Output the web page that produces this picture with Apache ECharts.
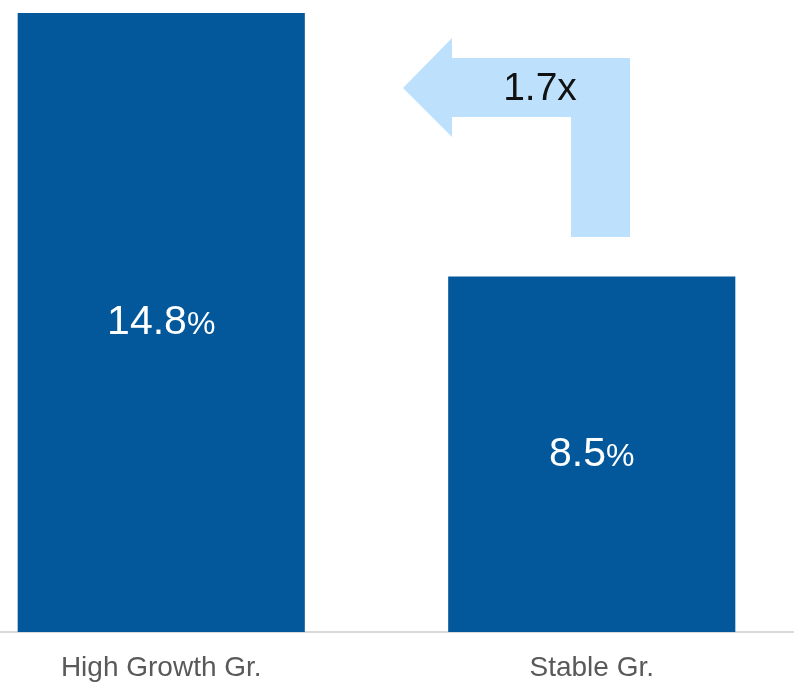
<!DOCTYPE html>
<html>
<head>
<meta charset="utf-8">
<script src="https://cdn.jsdelivr.net/npm/echarts@6/dist/echarts.min.js"></script>
<style>
  html, body { margin: 0; padding: 0; background: #fff; overflow: hidden; }
  #wrap { position: relative; width: 794px; height: 682px; overflow: hidden; }
  /* the plot is wider than the page so the outer bands bleed past both edges */
  #chart { position: absolute; left: -54px; top: 0; width: 861px; height: 682px; }
</style>
</head>
<body>
<div id="wrap"><div id="chart"></div></div>
<script>
const categories = ['High Growth Gr.', 'Stable Gr.'];
const values = [14.8, 8.5];
const ratioLabel = '1.7x';

const FONT = 'Arial, "Liberation Sans", sans-serif';
const BAR_COLOR = '#03589b';
const ARROW_COLOR = '#bde1fc';
const SHIFT = 54; // horizontal offset of the chart canvas inside the page

const chart = echarts.init(document.getElementById('chart'));

chart.setOption({
  animation: false,
  grid: { left: 0, right: 0, top: 13, bottom: 48, containLabel: false },
  xAxis: {
    type: 'category',
    data: categories,
    axisTick: { show: false },
    axisLine: { show: true, lineStyle: { color: '#d9d9d9', width: 2 } },
    axisLabel: { color: '#595959', fontSize: 28, fontFamily: FONT, margin: 22 }
  },
  yAxis: {
    type: 'value',
    min: 0,
    max: 14.8,
    show: false,
    splitLine: { show: false }
  },
  series: [{
    type: 'bar',
    data: values,
    barWidth: '66.7%',
    itemStyle: { color: BAR_COLOR },
    label: {
      show: true,
      position: 'inside',
      formatter: p => '{n|' + p.value.toFixed(1) + '}{p|%}',
      rich: {
        n: { color: '#fff', fontSize: 41, fontFamily: FONT },
        p: { color: '#fff', fontSize: 32, fontFamily: FONT, padding: [5, 0, 0, 0] }
      }
    }
  }]
});

// Elbow arrow from the second bar back toward the first, with the ratio text
const arrowPoints = [
  [403, 88], [452, 38], [452, 58], [630, 58], [630, 237],
  [571, 237], [571, 117], [452, 117], [452, 137]
].map(([x, y]) => [x + SHIFT, y]);

chart.setOption({
  graphic: [
    {
      type: 'polygon',
      shape: { points: arrowPoints },
      style: { fill: ARROW_COLOR },
      silent: true
    },
    {
      type: 'text',
      x: 540 + SHIFT,
      y: 89,
      style: {
        text: ratioLabel,
        fill: '#111',
        font: '39px ' + FONT,
        align: 'center',
        verticalAlign: 'middle'
      },
      silent: true
    }
  ]
});
</script>
</body>
</html>
